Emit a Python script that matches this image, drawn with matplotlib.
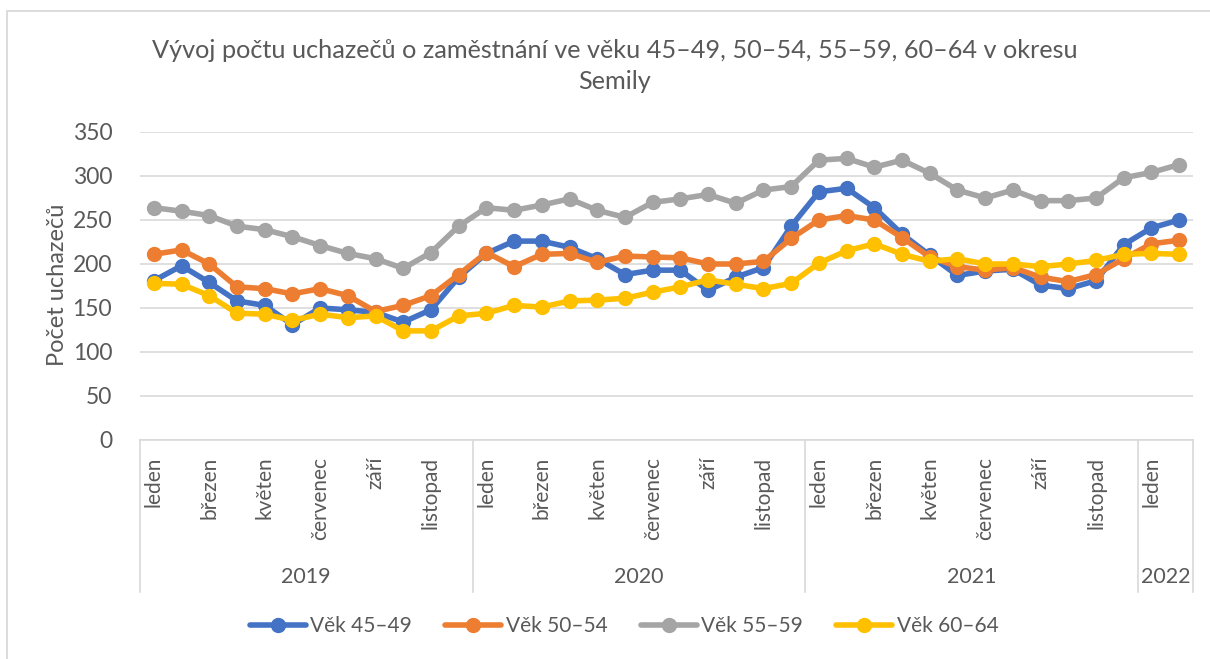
import matplotlib
matplotlib.use("Agg")
import matplotlib.pyplot as plt
import matplotlib.transforms as mtransforms
from matplotlib.patches import Rectangle
import numpy as np

plt.rcParams['font.family'] = ['Lato', 'DejaVu Sans']

months = ["leden", "únor", "březen", "duben", "květen", "červen",
          "červenec", "srpen", "září", "říjen", "listopad", "prosinec"]
years = ["2019", "2020", "2021", "2022"]
year_counts = [12, 12, 12, 2]

vek_45_49 = [181, 198, 179, 158, 153, 131, 150, 148, 145, 134, 148, 185,
             212, 226, 226, 219, 206, 188, 193, 193, 170, 185, 196, 243,
             282, 286, 264, 234, 210, 187, 192, 194, 176, 172, 181, 222,
             241, 250]
vek_50_54 = [211, 216, 200, 174, 172, 166, 172, 164, 146, 153, 164, 188,
             213, 197, 211, 212, 202, 209, 208, 207, 200, 200, 203, 229,
             250, 255, 250, 230, 208, 197, 193, 196, 185, 180, 188, 206,
             223, 227]
vek_55_59 = [264, 260, 255, 243, 239, 231, 221, 212, 206, 195, 213, 243,
             264, 261, 267, 274, 261, 253, 270, 274, 279, 269, 284, 288,
             318, 320, 310, 318, 303, 284, 275, 284, 272, 272, 275, 298,
             304, 313]
vek_60_64 = [178, 177, 164, 144, 143, 136, 143, 139, 141, 124, 124, 141,
             144, 153, 151, 158, 159, 161, 168, 174, 182, 177, 172, 178,
             201, 215, 223, 211, 203, 206, 200, 200, 197, 200, 204, 211,
             212, 211]

series = [("Věk 45–49", vek_45_49, "#4472C4"),
          ("Věk 50–54", vek_50_54, "#ED7D31"),
          ("Věk 55–59", vek_55_59, "#A5A5A5"),
          ("Věk 60–64", vek_60_64, "#FFC000")]

txt = "#595959"
grid = "#D9D9D9"

W, H = 1210, 659
fig = plt.figure(figsize=(W / 100, H / 100), dpi=100)
fig.patches.append(Rectangle((7 / W, -0.05), 1.1, 1 - 11 / H + 0.05,
                             transform=fig.transFigure, fill=False,
                             edgecolor=grid, linewidth=1.3))

ax = fig.add_axes([140 / W, 1 - 440 / H, (1193 - 140) / W, (440 - 132) / H])

n = sum(year_counts)
x = np.arange(n)
labels_all = []
for cnt in year_counts:
    labels_all += months[:cnt]

for name, vals, col in series:
    ax.plot(x, vals, color=col, linewidth=4, marker='o', markersize=10,
            label=name, solid_capstyle='round')

ax.set_xlim(-0.5, n - 0.5)
ax.set_ylim(0, 350)
ax.set_yticks(range(0, 351, 50))
ax.grid(axis='y', color=grid, linewidth=1.2)
ax.set_axisbelow(True)
for s in ['top', 'right', 'left']:
    ax.spines[s].set_visible(False)
ax.spines['bottom'].set_color(grid)
ax.spines['bottom'].set_linewidth(1.2)
ax.tick_params(axis='y', length=0, pad=20, labelsize=16.5, labelcolor=txt)

ax.set_xticks(x[::2])
ax.set_xticklabels(labels_all[::2], rotation=90, va='top', ha='center')
ax.tick_params(axis='x', length=0, pad=12, labelsize=15, labelcolor=txt)

# multi-level category axis: year groups
trans = mtransforms.blended_transform_factory(ax.transData, ax.transAxes)
edges = np.concatenate([[0], np.cumsum(year_counts)]) - 0.5
for e in edges:
    ax.plot([e, e], [0, -0.494], transform=trans, color=grid,
            linewidth=1.2, clip_on=False)
for i, yr in enumerate(years):
    ax.text((edges[i] + edges[i + 1]) / 2, -0.445, yr, transform=trans,
            ha='center', va='center', fontsize=15.5, color=txt)

fig.text(615 / W, 1 - 66 / H,
         "Vývoj počtu uchazečů o zaměstnání ve věku 45–49, 50–54, 55–59, 60–64 v okresu\nSemily",
         ha='center', va='center', fontsize=18.2, color=txt, linespacing=1.4)
fig.text(58 / W, 1 - 285 / H, "Počet uchazečů", rotation=90,
         ha='center', va='center', fontsize=17, color=txt)

leg = fig.legend(loc='center', bbox_to_anchor=(624 / W, 1 - 626 / H), ncol=4,
                 frameon=False, fontsize=15, handlelength=2.7,
                 handletextpad=0.2, columnspacing=1.6, labelcolor=txt)

fig.savefig("out.png", dpi=100)
